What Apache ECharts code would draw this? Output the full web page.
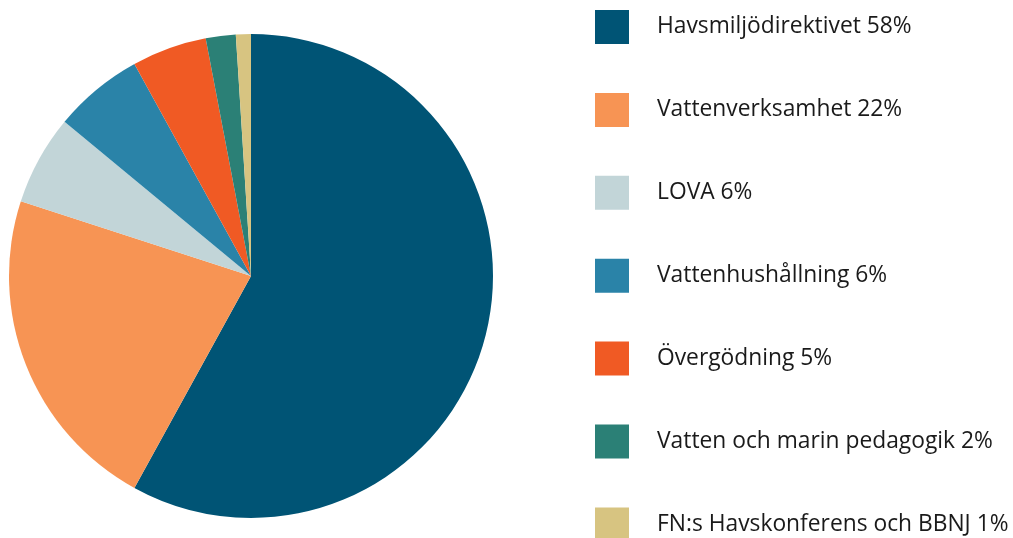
<!DOCTYPE html>
<html>
<head>
<meta charset="utf-8">
<script src="https://cdn.jsdelivr.net/npm/echarts@6/dist/echarts.min.js"></script>
<style>
  html, body { margin: 0; padding: 0; background: #fff; }
  #chart { width: 1013px; height: 538px; }
</style>
</head>
<body>
<div id="chart"></div>
<script>
  // data
  const categories = ['Havsmiljödirektivet', 'Vattenverksamhet', 'LOVA', 'Vattenhushållning', 'Övergödning', 'Vatten och marin pedagogik', 'FN:s Havskonferens och BBNJ']
  const shares = [58, 22, 6, 6, 5, 2, 1]
  const colors = ['#005475', '#f79454', '#c2d5d8', '#2a83a8', '#f05a24', '#2b8076', '#d7c481']

  const pieData = categories.map((name, i) => ({value: shares[i], name: name}))

  const chart = echarts.init(document.getElementById('chart'), null, {renderer: 'canvas'})
  chart.setOption({
    animation: false,
    color: colors,
    legend: {
      orient: 'vertical',
      left: 595,
      top: 10,
      height: 700,
      padding: 0,
      itemWidth: 34,
      itemHeight: 34,
      itemGap: 48.9,
      icon: 'rect',
      data: categories,
      formatter: function (name) {
        return name + ' ' + shares[categories.indexOf(name)] + '%'
      },
      textStyle: {
        fontFamily: 'Open Sans',
        fontSize: 22.8,
        color: '#1a1a1a',
        padding: [3, 0, 0, 23]
      }
    },
    series: [{
      type: 'pie',
      center: [251, 276],
      radius: [0, 242],
      startAngle: 90,
      clockwise: true,
      label: {show: false},
      labelLine: {show: false},
      itemStyle: {borderWidth: 0},
      emphasis: {disabled: true},
      data: pieData
    }]
  })
</script>
</body>
</html>
